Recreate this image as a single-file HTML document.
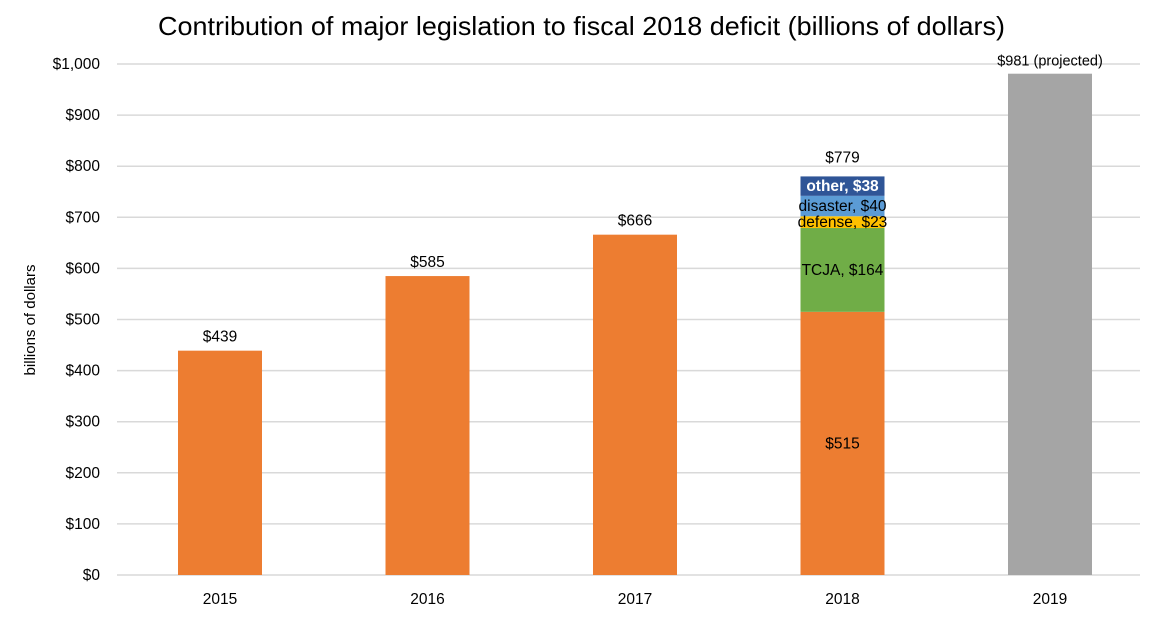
<!DOCTYPE html>
<html><head><meta charset="utf-8"><style>
body{margin:0;background:#fff;font-family:"Liberation Sans",sans-serif}
svg text{font-family:"Liberation Sans",sans-serif}
</style></head><body>
<svg id="c" width="1156" height="616" xmlns="http://www.w3.org/2000/svg">
<text x="158" y="35" font-size="26" textLength="847" lengthAdjust="spacingAndGlyphs" fill="#000">Contribution of major legislation to fiscal 2018 deficit (billions of dollars)</text>
<text transform="translate(35,320) rotate(-90)" font-size="15" text-anchor="middle">billions of dollars</text>
<g id="grid"></g><g id="bars"></g><g id="labels"></g>
</svg>
<script>
const years=["2015","2016","2017","2018","2019"];
const totals=[439,585,666,515,981];
const barColors=["#ED7D31","#ED7D31","#ED7D31","#ED7D31","#A5A5A5"];
const stackNames=["TCJA","defense","disaster","other"];
const stackValues=[164,23,40,38];
const stackColors=["#70AD47","#FFC000","#5B9BD5","#2F5597"];
const stackTotal=779;
const yTicks=[0,100,200,300,400,500,600,700,800,900,1000];
const tickLabels=["$0","$100","$200","$300","$400","$500","$600","$700","$800","$900","$1,000"];
const NS="http://www.w3.org/2000/svg";
const y=v=>575-v*0.511;
const x=i=>220+i*207.5;
const bw=84;
function mk(tag,attrs,parent,text){const e=document.createElementNS(NS,tag);for(const k in attrs)e.setAttribute(k,attrs[k]);if(text!==undefined)e.textContent=text;document.getElementById(parent).appendChild(e);return e;}
yTicks.forEach((t,i)=>{
 const l=mk("line",{x1:117,x2:1140,y1:y(t),y2:y(t),stroke:"#d9d9d9","stroke-width":1.5},"grid");
 
 
 const tx=mk("text",{x:100,y:y(t)+5,"font-size":15.5,"text-anchor":"end"},"grid",tickLabels[i]);
 
 
});
years.forEach((yr,i)=>{
 const r=mk("rect",{x:x(i)-bw/2,y:y(totals[i]),width:bw,height:y(0)-y(totals[i]),fill:barColors[i]},"bars");
 
 
 const xl=mk("text",{x:x(i),y:604,"font-size":15.5,"text-anchor":"middle"},"labels",yr);
 
 
 if(yr==="2018"){
  const vl=mk("text",{x:x(i),y:y(totals[i]/2)+5,"font-size":15.5,"text-anchor":"middle"},"labels","$"+totals[i]);
  
  
 } else if(yr==="2019"){
  const vl=mk("text",{x:x(i),y:y(totals[i])-8,"font-size":14.5,"text-anchor":"middle"},"labels","$"+totals[i]+"  (projected)");
  
  
 } else {
  const vl=mk("text",{x:x(i),y:y(totals[i])-9,"font-size":15.5,"text-anchor":"middle"},"labels","$"+totals[i]);
  
  
 }
});
let base=totals[3];
stackValues.forEach((v,j)=>{
 const r=mk("rect",{x:x(3)-bw/2,y:y(base+v),width:bw,height:y(base)-y(base+v),fill:stackColors[j]},"bars");
 
 
 const t=mk("text",{x:x(3),y:y(base+v/2)+5,"font-size":15.5,"text-anchor":"middle",fill:stackNames[j]==="other"?"#fff":"#000","font-weight":stackNames[j]==="other"?"bold":"normal"},"labels",stackNames[j]+", $"+v);
 
 
 base+=v;
});
const tl=mk("text",{x:x(3),y:y(base)-14,"font-size":15.5,"text-anchor":"middle"},"labels","$"+stackTotal);


</script>
</body></html>
